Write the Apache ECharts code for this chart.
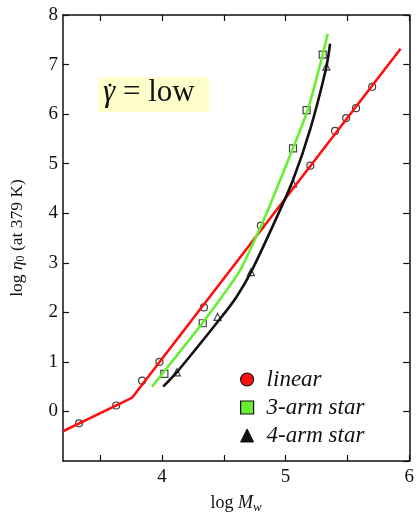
<!DOCTYPE html>
<html>
<head>
<meta charset="utf-8">
<script src="https://cdn.jsdelivr.net/npm/echarts@6/dist/echarts.min.js"></script>
<style>
	html, body { margin: 0; padding: 0; background: #fff; }
	#chart { width: 417px; height: 519px; }
</style>
</head>
<body>
<div id="chart"></div>
<script>
// fitted lines
var linearLine = [[3.20, -0.40], [3.76, 0.28], [5.93, 7.32]];
var star3Line = [[3.92, 0.50], [4.32, 1.76], [4.55, 2.54], [4.64, 2.88], [4.79, 3.68], [4.87, 4.14], [5.06, 5.31], [5.18, 6.09], [5.30, 7.20], [5.34, 7.62]];
var star4Line = [[4.01, 0.50], [4.13, 0.82], [4.48, 1.90], [4.60, 2.30], [4.72, 2.81], [4.92, 3.87], [5.06, 4.67], [5.20, 5.70], [5.33, 6.95], [5.36, 7.42]];

// measured points
var linearPts = [[3.33, -0.24], [3.63, 0.12], [3.84, 0.62], [3.98, 1.00], [4.34, 2.10], [4.80, 3.75], [5.20, 4.96], [5.40, 5.66], [5.49, 5.92], [5.57, 6.12], [5.70, 6.55]];
var star3Pts = [[4.02, 0.76], [4.33, 1.78], [5.06, 5.31], [5.17, 6.08], [5.30, 7.20]];
var star4Pts = [[4.12, 0.79], [4.45, 1.91], [4.72, 2.81], [5.06, 4.60], [5.33, 6.96]];

var xTicks = [3.5, 4, 4.5, 5, 5.5, 6];
var xLabels = [4, 5, 6];
var legendNames = ['linear', '3-arm star', '4-arm star'];

var serif = 'Liberation Serif';

var chart = document.getElementById('chart');
var myChart = echarts.init(chart);

function frameX(pos, showLabels){
	return {
		type: 'value',
		position: pos,
		min: 3.2,
		max: 6,
		splitLine: {show: false},
		axisLine: {show: true, onZero: false, lineStyle: {color: '#111', width: 1.5}},
		axisTick: {show: true, inside: true, length: 6, customValues: xTicks, lineStyle: {color: '#111', width: 1.2}},
		axisLabel: {show: showLabels, customValues: xLabels, margin: 7, color: '#111', fontFamily: serif, fontSize: 19}
	};
}

function frameY(pos, showLabels){
	return {
		type: 'value',
		position: pos,
		min: -1,
		max: 8,
		interval: 1,
		splitLine: {show: false},
		axisLine: {show: true, onZero: false, lineStyle: {color: '#111', width: 1.5}},
		axisTick: {show: true, inside: true, length: 6, lineStyle: {color: '#111', width: 1.2}},
		axisLabel: {show: showLabels, showMinLabel: false, margin: 5, color: '#111', fontFamily: serif, fontSize: 19}
	};
}

var xBottom = frameX('bottom', true);
xBottom.name = '{a|log }{i|M}{s|w}';
xBottom.nameLocation = 'middle';
xBottom.nameGap = 31;
xBottom.nameTextStyle = {
	rich: {
		a: {fontFamily: serif, fontSize: 18, color: '#111'},
		i: {fontFamily: serif, fontStyle: 'italic', fontSize: 18, color: '#111'},
		s: {fontFamily: serif, fontStyle: 'italic', fontSize: 13, color: '#111', padding: [9, 0, 0, 0]}
	}
};

var yLeft = frameY('left', true);
yLeft.name = '{a|log }{i|η}{s|0}{a| (at 379 K)}';
yLeft.nameLocation = 'middle';
yLeft.nameRotate = 90;
yLeft.nameGap = 36;
yLeft.nameTextStyle = {
	rich: {
		a: {fontFamily: serif, fontSize: 17.5, color: '#111'},
		i: {fontFamily: serif, fontStyle: 'italic', fontSize: 17.5, color: '#111'},
		s: {fontFamily: serif, fontSize: 12, color: '#111', padding: [8, 0, 0, 0]}
	}
};

function pointSeries(name, data, symbol){
	return {
		name: name,
		type: 'scatter',
		data: data,
		symbol: symbol,
		symbolSize: 7,
		z: 1,
		itemStyle: {color: '#fff', borderColor: '#111', borderWidth: 1.2},
		silent: true
	};
}

function curveSeries(name, data, color, smooth){
	return {
		name: name,
		type: 'line',
		data: data,
		smooth: smooth,
		showSymbol: false,
		z: 3,
		lineStyle: {color: color, width: 2.6},
		itemStyle: {color: color}
	};
}

var options = {
	animation: false,
	textStyle: {fontFamily: serif},
	grid: {left: 59, right: 4, top: 15, bottom: 51, containLabel: false},
	xAxis: [xBottom, frameX('top', false)],
	yAxis: [yLeft, frameY('right', false)],
	legend: {
		orient: 'vertical',
		left: 235,
		top: 363,
		itemWidth: 13,
		itemHeight: 13,
		itemGap: 5,
		selectedMode: false,
		textStyle: {fontFamily: serif, fontStyle: 'italic', fontSize: 23, color: '#111', padding: [0, 0, 0, 8]},
		data: [
			{name: legendNames[0], icon: 'circle', itemStyle: {color: '#ff1010', borderColor: '#111', borderWidth: 1.2}},
			{name: legendNames[1], icon: 'rect', itemStyle: {color: '#66ee33', borderColor: '#111', borderWidth: 1.2}},
			{name: legendNames[2], icon: 'triangle', itemStyle: {color: '#111', borderColor: '#111', borderWidth: 1}}
		]
	},
	graphic: [
		{type: 'rect', left: 98, top: 77, shape: {width: 111, height: 35}, style: {fill: '#ffffcc'}, z: 10},
		{type: 'text', left: 103, top: 77, z: 11, style: {
			text: '{g|γ}{t| = low}',
			rich: {
				g: {fontFamily: serif, fontStyle: 'italic', fontSize: 31, fill: '#111'},
				t: {fontFamily: serif, fontSize: 31, fill: '#111'}
			}
		}},
		{type: 'circle', shape: {cx: 110, cy: 85, r: 1.5}, style: {fill: '#111'}, z: 12}
	],
	series: [
		pointSeries('linear pts', linearPts, 'circle'),
		pointSeries('3-arm pts', star3Pts, 'rect'),
		pointSeries('4-arm pts', star4Pts, 'triangle'),
		curveSeries(legendNames[0], linearLine, '#ff1010', false),
		curveSeries(legendNames[2], star4Line, '#111', 0.2),
		curveSeries(legendNames[1], star3Line, '#66ee33', 0.2)
	]
};

myChart.setOption(options);

window.onresize = function(event) {
	if(myChart != null && myChart != undefined){
		myChart.resize();
	}
}
</script>
</body>
</html>
